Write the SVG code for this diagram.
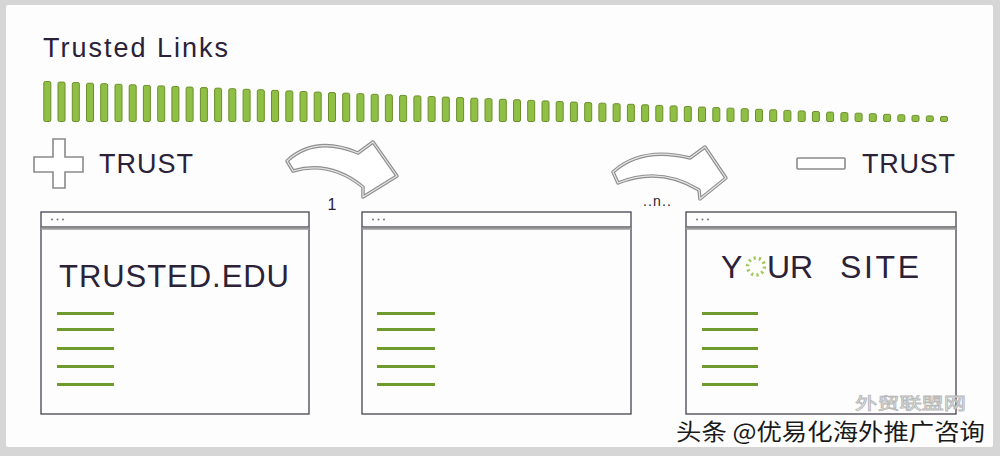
<svg xmlns="http://www.w3.org/2000/svg" width="1000" height="456" viewBox="0 0 1000 456">
<style>
.txt{font-family:"Liberation Sans",Arial,sans-serif;fill:#2b2238}
.bar{fill:#8fbf45;stroke:#6d8f2a;stroke-width:1}
.win{fill:#fdfdfe;stroke:#48424f;stroke-width:1.3}
.sep{stroke:#9a9a9a;stroke-width:2.5}
.dot{fill:#777}
.gl{stroke:#6e9a2e;stroke-width:3;stroke-linecap:butt}
.arrO{fill:#fff;stroke:#8f8f8f;stroke-width:3.5;stroke-linejoin:round}
.arrI{fill:none;stroke:#e6e6e6;stroke-width:1.2;stroke-linejoin:round}
.icon{fill:#fff;stroke:#8a8a8a;stroke-width:1.6}
</style>
<rect x="0" y="0" width="1000" height="456" fill="#d6d6d6"/>
<rect x="6" y="5" width="987" height="442" rx="2" fill="#fdfdfe"/>

<g id="title">
<text class="txt" x="43" y="57" font-size="27" textLength="185" lengthAdjust="spacing">Trusted Links</text>
</g>

<g id="bars">
<rect class="bar" x="43.8" y="81.5" width="7" height="40" rx="1.5"/>
<rect class="bar" x="58.0" y="82.1" width="7" height="39.4" rx="1.5"/>
<rect class="bar" x="72.3" y="82.6" width="7" height="38.9" rx="1.5"/>
<rect class="bar" x="86.5" y="83.2" width="7" height="38.3" rx="1.5"/>
<rect class="bar" x="100.7" y="83.7" width="7" height="37.8" rx="1.5"/>
<rect class="bar" x="115.0" y="84.3" width="7" height="37.2" rx="1.5"/>
<rect class="bar" x="129.2" y="84.8" width="7" height="36.7" rx="1.5"/>
<rect class="bar" x="143.4" y="85.4" width="7" height="36.1" rx="1.5"/>
<rect class="bar" x="157.7" y="85.9" width="7" height="35.6" rx="1.5"/>
<rect class="bar" x="171.9" y="86.5" width="7" height="35.0" rx="1.5"/>
<rect class="bar" x="186.1" y="87.1" width="7" height="34.4" rx="1.5"/>
<rect class="bar" x="200.4" y="87.6" width="7" height="33.9" rx="1.5"/>
<rect class="bar" x="214.6" y="88.2" width="7" height="33.3" rx="1.5"/>
<rect class="bar" x="228.8" y="88.7" width="7" height="32.8" rx="1.5"/>
<rect class="bar" x="243.1" y="89.3" width="7" height="32.2" rx="1.5"/>
<rect class="bar" x="257.3" y="89.8" width="7" height="31.7" rx="1.5"/>
<rect class="bar" x="271.5" y="90.4" width="7" height="31.1" rx="1.5"/>
<rect class="bar" x="285.8" y="90.9" width="7" height="30.6" rx="1.5"/>
<rect class="bar" x="300.0" y="91.5" width="7" height="30.0" rx="1.5"/>
<rect class="bar" x="314.2" y="92.1" width="7" height="29.4" rx="1.5"/>
<rect class="bar" x="328.5" y="92.6" width="7" height="28.9" rx="1.5"/>
<rect class="bar" x="342.7" y="93.2" width="7" height="28.3" rx="1.5"/>
<rect class="bar" x="356.9" y="93.7" width="7" height="27.8" rx="1.5"/>
<rect class="bar" x="371.2" y="94.3" width="7" height="27.2" rx="1.5"/>
<rect class="bar" x="385.4" y="94.8" width="7" height="26.7" rx="1.5"/>
<rect class="bar" x="399.6" y="95.4" width="7" height="26.1" rx="1.5"/>
<rect class="bar" x="413.9" y="95.9" width="7" height="25.6" rx="1.5"/>
<rect class="bar" x="428.1" y="96.5" width="7" height="25.0" rx="1.5"/>
<rect class="bar" x="442.3" y="97.1" width="7" height="24.4" rx="1.5"/>
<rect class="bar" x="456.6" y="97.6" width="7" height="23.9" rx="1.5"/>
<rect class="bar" x="470.8" y="98.2" width="7" height="23.3" rx="1.5"/>
<rect class="bar" x="485.0" y="98.7" width="7" height="22.8" rx="1.5"/>
<rect class="bar" x="499.3" y="99.3" width="7" height="22.2" rx="1.5"/>
<rect class="bar" x="513.5" y="99.8" width="7" height="21.7" rx="1.5"/>
<rect class="bar" x="527.7" y="100.4" width="7" height="21.1" rx="1.5"/>
<rect class="bar" x="542.0" y="100.9" width="7" height="20.6" rx="1.5"/>
<rect class="bar" x="556.2" y="101.5" width="7" height="20.0" rx="1.5"/>
<rect class="bar" x="570.4" y="102.1" width="7" height="19.4" rx="1.5"/>
<rect class="bar" x="584.7" y="102.6" width="7" height="18.9" rx="1.5"/>
<rect class="bar" x="598.9" y="103.2" width="7" height="18.3" rx="1.5"/>
<rect class="bar" x="613.1" y="103.7" width="7" height="17.8" rx="1.5"/>
<rect class="bar" x="627.4" y="104.3" width="7" height="17.2" rx="1.5"/>
<rect class="bar" x="641.6" y="104.8" width="7" height="16.7" rx="1.5"/>
<rect class="bar" x="655.8" y="105.4" width="7" height="16.1" rx="1.5"/>
<rect class="bar" x="670.1" y="105.9" width="7" height="15.6" rx="1.5"/>
<rect class="bar" x="684.3" y="106.5" width="7" height="15.0" rx="1.5"/>
<rect class="bar" x="698.5" y="107.1" width="7" height="14.4" rx="1.5"/>
<rect class="bar" x="712.8" y="107.6" width="7" height="13.9" rx="1.5"/>
<rect class="bar" x="727.0" y="108.2" width="7" height="13.3" rx="1.5"/>
<rect class="bar" x="741.2" y="108.7" width="7" height="12.8" rx="1.5"/>
<rect class="bar" x="755.5" y="109.3" width="7" height="12.2" rx="1.5"/>
<rect class="bar" x="769.7" y="109.8" width="7" height="11.7" rx="1.5"/>
<rect class="bar" x="783.9" y="110.4" width="7" height="11.1" rx="1.5"/>
<rect class="bar" x="798.2" y="110.9" width="7" height="10.6" rx="1.5"/>
<rect class="bar" x="812.4" y="111.5" width="7" height="10.0" rx="1.5"/>
<rect class="bar" x="826.6" y="112.1" width="7" height="9.4" rx="1.5"/>
<rect class="bar" x="840.9" y="112.6" width="7" height="8.9" rx="1.5"/>
<rect class="bar" x="855.1" y="113.2" width="7" height="8.3" rx="1.5"/>
<rect class="bar" x="869.3" y="113.7" width="7" height="7.8" rx="1.5"/>
<rect class="bar" x="883.6" y="114.3" width="7" height="7.2" rx="1.5"/>
<rect class="bar" x="897.8" y="114.8" width="7" height="6.7" rx="1.5"/>
<rect class="bar" x="912.0" y="115.4" width="7" height="6.1" rx="1.5"/>
<rect class="bar" x="926.3" y="115.9" width="7" height="5.6" rx="1.5"/>
<rect class="bar" x="940.5" y="116.5" width="7" height="5.0" rx="1.5"/>
</g>

<g id="plus-trust">
<path class="icon" d="M53,139 H65 V157 H83 V172 H65 V188 H53 V172 H34 V157 H53 Z"/>
<text class="txt" x="99" y="173" font-size="27" textLength="94" lengthAdjust="spacing">TRUST</text>
</g>

<g id="minus-trust">
<rect class="icon" x="797" y="158" width="48" height="11" rx="1"/>
<text class="txt" x="862" y="173" font-size="27" textLength="93" lengthAdjust="spacing">TRUST</text>
</g>

<g id="connectors">
<g id="arrow-1">
<path class="arrO" d="M287,161 Q315,135 358,153 L373,142 L397,176 L363,197 L363,187 Q330,160 293,171 Z"/>
<path class="arrI" d="M287,161 Q315,135 358,153 L373,142 L397,176 L363,197 L363,187 Q330,160 293,171 Z"/>
<text class="txt" x="332" y="210" font-size="16" text-anchor="middle">1</text>
</g>
<g id="arrow-2">
<path class="arrO" d="M613,172 Q642,146 690,158 L705,147 L726,178 L700,199 L699,190 Q660,166 618,183 Z"/>
<path class="arrI" d="M613,172 Q642,146 690,158 L705,147 L726,178 L700,199 L699,190 Q660,166 618,183 Z"/>
<text class="txt" x="643" y="206" font-size="14" textLength="28" lengthAdjust="spacing">..n..</text>
</g>
</g>

<g id="window-trusted">
<rect class="win" x="41" y="228" width="268" height="186"/>
<rect class="win" x="41" y="212" width="268" height="15"/>
<line class="sep" x1="41" y1="228.5" x2="309" y2="228.5"/>
<circle class="dot" cx="52" cy="219.5" r="1"/><circle class="dot" cx="57.5" cy="219.5" r="1"/><circle class="dot" cx="63" cy="219.5" r="1"/>
<text class="txt" x="59" y="287" font-size="31" textLength="230" lengthAdjust="spacing">TRUSTED.EDU</text>
<line class="gl" x1="57" y1="313.5" x2="114" y2="313.5"/>
<line class="gl" x1="57" y1="329.5" x2="114" y2="329.5"/>
<line class="gl" x1="57" y1="348.5" x2="114" y2="348.5"/>
<line class="gl" x1="57" y1="366.5" x2="114" y2="366.5"/>
<line class="gl" x1="57" y1="384.5" x2="114" y2="384.5"/>
</g>

<g id="window-middle">
<rect class="win" x="362" y="228" width="269" height="186"/>
<rect class="win" x="362" y="212" width="269" height="15"/>
<line class="sep" x1="362" y1="228.5" x2="631" y2="228.5"/>
<circle class="dot" cx="373" cy="219.5" r="1"/><circle class="dot" cx="378.5" cy="219.5" r="1"/><circle class="dot" cx="384" cy="219.5" r="1"/>
<line class="gl" x1="377" y1="313.5" x2="435" y2="313.5"/>
<line class="gl" x1="377" y1="329.5" x2="435" y2="329.5"/>
<line class="gl" x1="377" y1="348.5" x2="435" y2="348.5"/>
<line class="gl" x1="377" y1="366.5" x2="435" y2="366.5"/>
<line class="gl" x1="377" y1="384.5" x2="435" y2="384.5"/>
</g>

<g id="window-your-site">
<rect class="win" x="686" y="228" width="270" height="186"/>
<rect class="win" x="686" y="212" width="270" height="15"/>
<line class="sep" x1="686" y1="228.5" x2="956" y2="228.5"/>
<circle class="dot" cx="697" cy="219.5" r="1"/><circle class="dot" cx="702.5" cy="219.5" r="1"/><circle class="dot" cx="708" cy="219.5" r="1"/>
<text class="txt" x="721" y="278" font-size="32">Y</text>
<circle cx="756" cy="266.5" r="8.5" fill="none" stroke="#a3c95e" stroke-width="3.5" stroke-dasharray="2.2 3.14"/>
<text class="txt" x="767" y="278" font-size="32">UR</text>
<text class="txt" x="840" y="278" font-size="32" textLength="79" lengthAdjust="spacing">SITE</text>
<line class="gl" x1="702" y1="313.5" x2="758" y2="313.5"/>
<line class="gl" x1="702" y1="329.5" x2="758" y2="329.5"/>
<line class="gl" x1="702" y1="348.5" x2="758" y2="348.5"/>
<line class="gl" x1="702" y1="366.5" x2="758" y2="366.5"/>
<line class="gl" x1="702" y1="384.5" x2="758" y2="384.5"/>
</g>

<g id="watermark">
<text x="855" y="409" font-family="'Noto Sans CJK SC',sans-serif" font-size="16" fill="#fff" stroke="#b8b8b8" stroke-width="0.8" textLength="111" lengthAdjust="spacingAndGlyphs">外贸联盟网</text>
<text x="676" y="440" font-family="'Noto Sans CJK SC',sans-serif" font-size="23" fill="#1a1a1a" stroke="#fff" stroke-width="3" paint-order="stroke" textLength="309" lengthAdjust="spacingAndGlyphs">头条 @优易化海外推广咨询</text>
</g>
</svg>
